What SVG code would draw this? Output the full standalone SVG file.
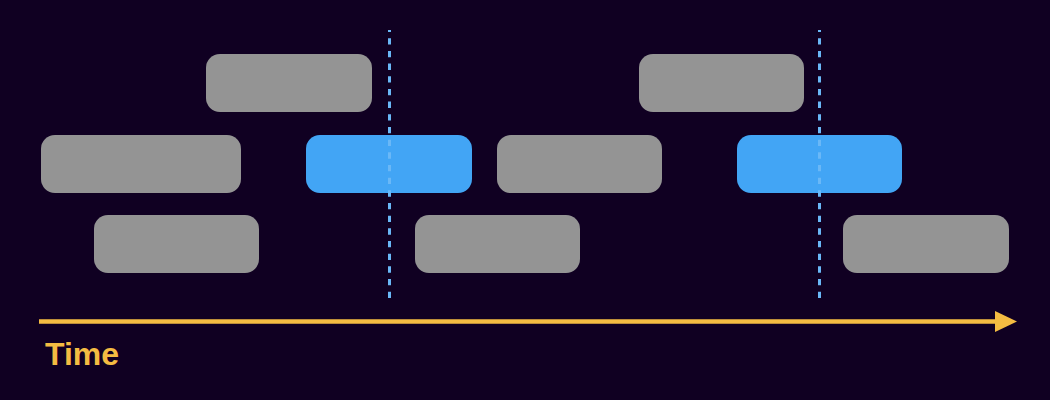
<svg xmlns="http://www.w3.org/2000/svg" width="1050" height="400" viewBox="0 0 1050 400">
<style>
.g{fill:#949494}
.b{fill:#42a5f5}
.d{stroke:#6ab8f7;stroke-width:3;stroke-dasharray:6.33 6.34;fill:none}
.t{font-family:"Liberation Sans",Arial,sans-serif;font-weight:bold;font-size:32px;fill:#f4bc42}
</style>
<defs>
<marker id="ah" markerWidth="22" markerHeight="21" refX="0" refY="10.5" orient="auto" markerUnits="userSpaceOnUse">
<path d="M0,0 L22,10.5 L0,21 Z" fill="#f4bc42"/>
</marker>
</defs>
<rect width="1050" height="400" fill="#100022"/>
<g id="n1"><rect class="g" x="206" y="54" width="166" height="58" rx="14"/></g>
<g id="n2"><rect class="g" x="41" y="135" width="200" height="58" rx="14"/></g>
<g id="n3"><rect class="b" x="306" y="135" width="166" height="58" rx="14"/></g>
<g id="n4"><rect class="g" x="497" y="135" width="165" height="58" rx="14"/></g>
<g id="n5"><rect class="g" x="94" y="215" width="165" height="58" rx="14"/></g>
<g id="n6"><rect class="g" x="415" y="215" width="165" height="58" rx="14"/></g>
<g id="n7"><rect class="g" x="639" y="54" width="165" height="58" rx="14"/></g>
<g id="n8"><rect class="b" x="737" y="135" width="165" height="58" rx="14"/></g>
<g id="n9"><rect class="g" x="843" y="215" width="166" height="58" rx="14"/></g>
<g id="connectors">
<line class="d" x1="389.5" y1="298" x2="389.5" y2="30"/>
<line class="d" x1="819.5" y1="298" x2="819.5" y2="30"/>
<line x1="39" y1="321.5" x2="995" y2="321.5" stroke="#f4bc42" stroke-width="4.5" marker-end="url(#ah)"/>
</g>
<text class="t" x="45" y="365">Time</text>
</svg>
